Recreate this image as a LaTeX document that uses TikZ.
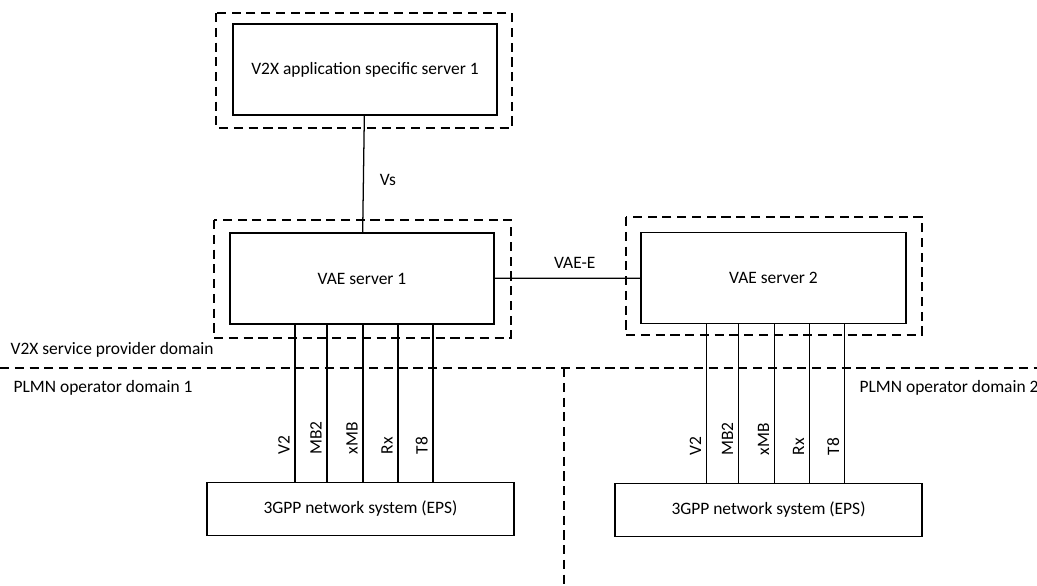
\documentclass[tikz,border=0pt]{standalone}
\usepackage{fontspec}
\setmainfont{Carlito}
\usepackage{tikz}
\usetikzlibrary{positioning, calc}

\begin{document}
\begin{tikzpicture}[x=0.025cm, y=-0.025cm, line width=0.9pt,
    font=\fontsize{12.4}{14}\selectfont,
    server/.style={draw, rectangle, minimum width=6.6cm, minimum height=2.28cm, inner sep=0pt},
    netbox/.style={draw, rectangle, minimum width=7.675cm, minimum height=1.33cm, inner sep=0pt},
    frame/.style={dashed, dash pattern=on 6.5pt off 4pt, line width=0.9pt},
    iflabel/.style={rotate=90, anchor=south west}]
      \useasboundingbox (0,0) rectangle (1037,585);
      % servers
      \node[server] (as1) at (365,69.5) {V2X application specific server 1};
      \node[server] (vae1) at (362,278.5) {VAE server 1};
      \node[server, minimum width=6.625cm] (vae2) at (773.5,278) {VAE server 2};
      \node[netbox] (eps1) at (360.5,509) {3GPP network system (EPS)};
      \node[netbox] (eps2) at (768.5,510) {3GPP network system (EPS)};
      % dashed frames
      \draw[frame] (216,13) rectangle (512,128);
      \draw[frame] (214,220) rectangle (511,338);
      \draw[frame] (626,217) rectangle (922,335);
      % domain borders
      \draw[frame] (0,368) -- (1037,368);
      \draw[frame] (564,368) -- (564,585);
      \node[anchor=west, inner sep=0pt] (spd) at (10,350) {V2X service provider domain};
      \node[anchor=west, inner sep=0pt] (plmn1) at (13,388) {PLMN operator domain 1};
      \node[anchor=west, inner sep=0pt] (plmn2) at (859,388) {PLMN operator domain 2};
      % reference points
      \draw (as1) -- node[pos=0.55, right=8pt] {Vs} (vae1);
      \draw (vae1) -- node[pos=0.55, above=3pt] {VAE-E} (vae2);
      \foreach \srv/\net in {vae1/eps1, vae2/eps2} {
        \foreach \dx/\name in {-67/V2, -35/MB2, 1/xMB, 36/Rx, 71/T8} {
          \coordinate (top) at ($(\srv.south)+(\dx,0)$);
          \coordinate (bot) at (top |- \net.north);
          \draw (top) -- (bot);
          \node[iflabel] (lbl) at ($(bot)+(0,-22)$) {\name};
        }
      }
\end{tikzpicture}
\end{document}
